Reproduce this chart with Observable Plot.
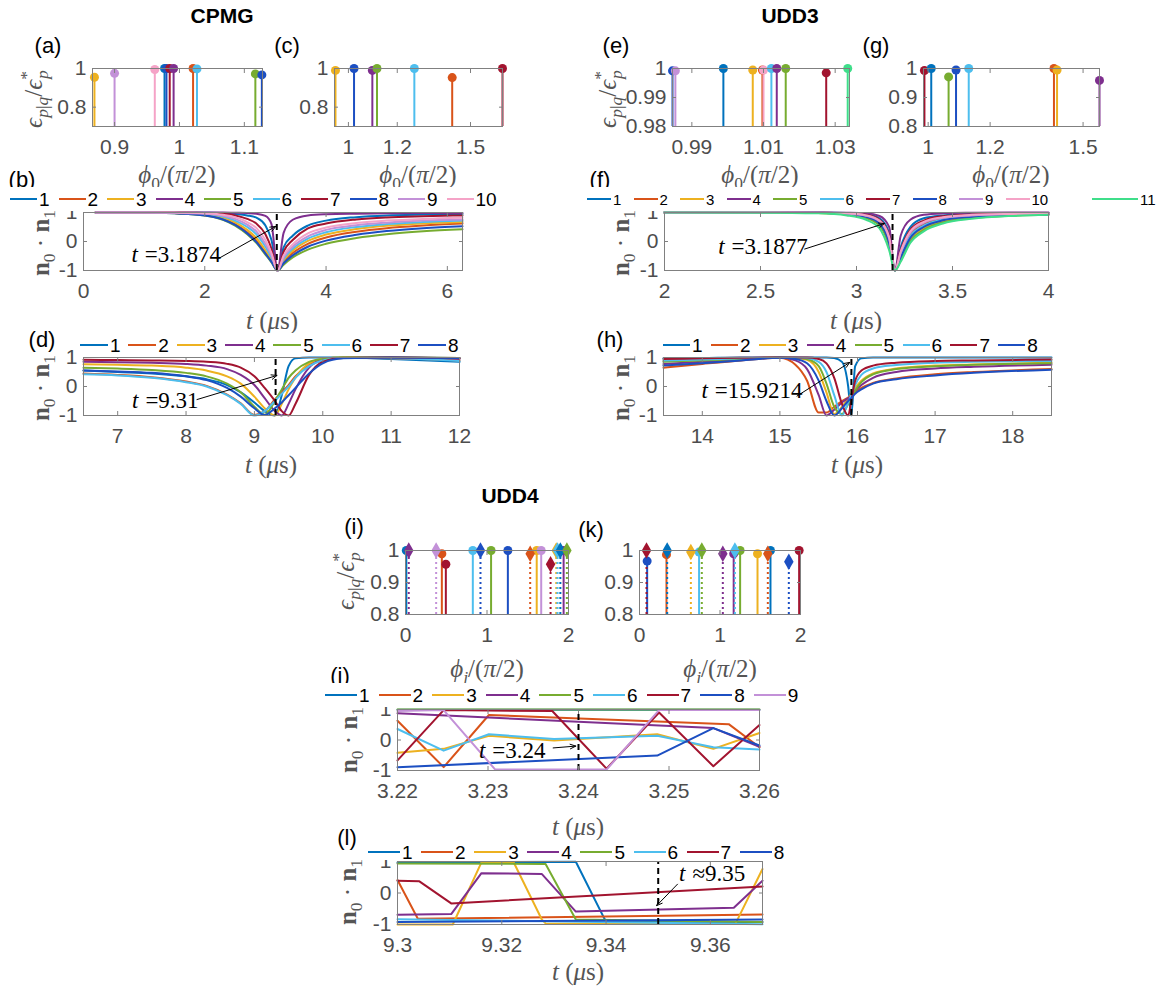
<!DOCTYPE html>
<html>
<head>
<meta charset="utf-8">
<script src="https://cdn.jsdelivr.net/npm/d3@7"></script>
<script src="https://cdn.jsdelivr.net/npm/@observablehq/plot@0.6"></script>
<style>
html, body { margin: 0; padding: 0; background: #fff; }
#fig { position: relative; width: 1163px; height: 990px; overflow: hidden; background: #fff;
       font-family: "Liberation Sans", Arial, Helvetica, sans-serif; }
#fig svg { position: absolute; }
.t { position: absolute; white-space: nowrap; line-height: 1; }
.math { font-family: "Liberation Serif", "Times New Roman", serif; color: #555; font-size: 25px; }
.math sub, .math sup { font-size: 0.7em; line-height: 0; }
.ylab { font-size: 25px; }
.tag { font-size: 22px; color: #000; }
.title { font-size: 21px; font-weight: bold; color: #000; }
.leg { position: absolute; background: #fff; }
.leg .ln { position: absolute; height: 2px; }
.leg .lb { position: absolute; color: #000; line-height: 1; transform: translateY(-50%); }
</style>
</head>
<body>
<div id="fig"></div>
<script>
// ---------- series colours (index = series number) ----------
const palette = [null, "#0072BD", "#D95319", "#EDB120", "#7E2F8E", "#77AC30", "#4DBEEE",
                 "#A2142F", "#1C4FC2", "#C391D8", "#F5A3C7", "#3FDE8A"];

// ---------- CPMG: stem panels (a) and (c) ----------
const phiA = [0.869, 0.900, 0.962, 0.977, 0.980, 0.985, 0.991, 1.021, 1.027, 1.117, 1.127];
const epsA = [0.955, 0.975, 0.995, 1.0, 1.0, 1.0, 1.0, 1.0, 0.998, 0.972, 0.967];
const serA = [3, 9, 10, 1, 8, 7, 4, 2, 6, 5, 8];

const phiC = [0.947, 1.023, 1.098, 1.117, 1.270, 1.425, 1.631];
const epsC = [0.99, 1.0, 0.99, 1.0, 1.0, 0.953, 1.0];
const serC = [3, 8, 4, 5, 6, 2, 7];

// ---------- UDD3: stem panels (e) and (g) ----------
const phiE = [0.9846, 0.9854, 0.9988, 1.0070, 1.0097, 1.0100, 1.0122, 1.0137, 1.0162, 1.0275, 1.0335];
const epsE = [0.9992, 0.9992, 1.0, 0.9995, 0.9995, 0.9995, 1.0, 1.0, 1.0, 0.9985, 1.0];
const serE = [8, 9, 1, 3, 2, 10, 6, 4, 5, 7, 11];

const phiG = [0.988, 1.010, 1.066, 1.090, 1.131, 1.406, 1.416, 1.553];
const epsG = [0.993, 1.0, 0.971, 0.995, 1.0, 1.0, 0.995, 0.959];
const serG = [7, 1, 5, 8, 6, 2, 3, 4];

// ---------- UDD4: stem panels (i) and (k); solid = circle, dotted = diamond ----------
const phiI = [0.01, 0.04, 0.376, 0.446, 0.495, 0.826, 0.92, 1.05, 1.256, 1.53, 1.61, 1.665, 1.78, 1.85, 1.865, 1.90, 1.94, 1.98];
const epsI = [1.0, 1.0, 1.0, 0.99, 0.957, 1.0, 1.0, 1.0, 1.0, 0.99, 1.0, 1.0, 0.957, 1.0, 1.0, 1.0, 1.0, 1.0];
const serI = [1, 4, 9, 2, 7, 6, 8, 5, 8, 2, 3, 9, 7, 3, 6, 1, 4, 5];
const dotI = [0, 1, 1, 0, 0, 0, 1, 0, 0, 1, 0, 0, 1, 1, 1, 1, 0, 1];

const phiK = [0.087, 0.095, 0.335, 0.344, 0.638, 0.74, 0.774, 1.035, 1.17, 1.185, 1.25, 1.466, 1.594, 1.627, 1.855, 1.983];
const epsK = [1.0, 0.967, 0.987, 1.0, 0.995, 0.995, 1.0, 0.99, 0.99, 1.0, 1.0, 0.99, 0.99, 1.0, 0.965, 1.0];
const serK = [7, 8, 2, 1, 3, 6, 5, 4, 4, 6, 5, 3, 2, 1, 8, 7];
const dotK = [1, 0, 0, 1, 1, 0, 1, 1, 0, 1, 0, 0, 1, 0, 1, 0];

// ---------- (b) CPMG, first pulse ----------
const tB = [0.2, 1.0, 1.5, 2.0, 2.3, 2.5, 2.7, 2.85, 3.0, 3.1, 3.2, 3.3, 3.45, 3.7, 4.0, 4.5, 5.0, 5.6, 6.25];
const vB = [
  [1, 1, 1, 0.99, 0.98, 0.95, 0.9, 0.82, 0.55, 0.05, -1, -0.2, 0.2, 0.55, 0.72, 0.84, 0.9, 0.93, 0.95],
  [1, 1, 0.98, 0.91, 0.78, 0.6, 0.32, 0.03, -0.38, -0.67, -1, -0.7, -0.4, -0.08, 0.14, 0.34, 0.46, 0.55, 0.62],
  [1, 1, 0.98, 0.93, 0.82, 0.66, 0.4, 0.12, -0.3, -0.62, -1, -0.65, -0.32, 0.02, 0.24, 0.43, 0.54, 0.62, 0.67],
  [1, 1, 1, 1, 1, 0.99, 0.98, 0.96, 0.88, 0.6, -1, 0.3, 0.75, 0.9, 0.94, 0.96, 0.97, 0.98, 0.98],
  [1, 1, 0.97, 0.9, 0.75, 0.55, 0.25, -0.05, -0.45, -0.72, -1, -0.8, -0.55, -0.28, -0.08, 0.12, 0.25, 0.35, 0.42],
  [1, 1, 0.99, 0.95, 0.86, 0.72, 0.5, 0.25, -0.18, -0.55, -1, -0.6, -0.25, 0.1, 0.32, 0.5, 0.6, 0.67, 0.72],
  [1, 1, 1, 0.98, 0.95, 0.9, 0.78, 0.62, 0.25, -0.25, -1, -0.35, 0.05, 0.45, 0.62, 0.76, 0.83, 0.87, 0.9],
  [1, 1, 0.97, 0.9, 0.76, 0.57, 0.28, -0.02, -0.42, -0.7, -1, -0.75, -0.48, -0.18, 0.03, 0.23, 0.36, 0.46, 0.53],
  [1, 1, 0.99, 0.96, 0.89, 0.78, 0.58, 0.35, -0.08, -0.48, -1, -0.55, -0.18, 0.18, 0.4, 0.56, 0.65, 0.72, 0.76],
  [1, 1, 1, 0.97, 0.92, 0.84, 0.67, 0.47, 0.05, -0.4, -1, -0.48, -0.1, 0.28, 0.48, 0.64, 0.72, 0.78, 0.82]
];

// ---------- (f) UDD3, first pulse ----------
const tF = [2, 2.5, 2.8, 2.95, 3.05, 3.12, 3.17, 3.2, 3.23, 3.28, 3.35, 3.45, 3.6, 3.8, 4.0];
const vF = [
  [1, 1, 1, 0.98, 0.94, 0.8, 0.3, -1, -0.2, 0.5, 0.8, 0.9, 0.95, 0.97, 0.98],
  [1, 1, 0.99, 0.96, 0.88, 0.68, 0.05, -1, -0.45, 0.25, 0.6, 0.8, 0.89, 0.93, 0.95],
  [1, 1, 0.98, 0.94, 0.83, 0.58, -0.1, -1, -0.6, 0.05, 0.45, 0.7, 0.83, 0.9, 0.93],
  [1, 1, 1, 0.99, 0.97, 0.88, 0.5, -1, 0.2, 0.75, 0.92, 0.97, 0.99, 1, 1],
  [1, 1, 0.98, 0.93, 0.81, 0.55, -0.15, -1, -0.65, 0, 0.4, 0.66, 0.81, 0.89, 0.92],
  [1, 1, 0.99, 0.95, 0.86, 0.64, 0, -1, -0.5, 0.18, 0.55, 0.76, 0.87, 0.92, 0.94],
  [1, 1, 0.99, 0.97, 0.92, 0.75, 0.2, -1, -0.3, 0.4, 0.72, 0.87, 0.93, 0.96, 0.97],
  [1, 1, 0.99, 0.95, 0.85, 0.62, -0.05, -1, -0.55, 0.12, 0.5, 0.73, 0.85, 0.91, 0.93],
  [1, 1, 0.99, 0.96, 0.89, 0.7, 0.1, -1, -0.4, 0.3, 0.64, 0.82, 0.9, 0.94, 0.95],
  [1, 1, 0.99, 0.97, 0.9, 0.72, 0.15, -1, -0.35, 0.35, 0.68, 0.84, 0.92, 0.95, 0.96],
  [1, 0.995, 0.97, 0.9, 0.75, 0.45, -0.3, -1, -0.7, -0.05, 0.35, 0.62, 0.78, 0.88, 0.92]
];

// ---------- (d) CPMG, second pulse ----------
const tD = [6.5, 7, 7.5, 8, 8.3, 8.6, 8.8, 9.0, 9.15, 9.3, 9.4, 9.5, 9.6, 9.8, 10.0, 10.3, 11, 12];
const vD = [
  [0.55, 0.5, 0.45, 0.35, 0.25, 0.05, -0.2, -0.55, -0.85, -1, -0.3, 0.7, 0.97, 1, 1, 1, 0.95, 0.85],
  [0.45, 0.4, 0.32, 0.17, 0.02, -0.28, -0.58, -0.98, -0.85, -0.45, -0.2, 0.05, 0.35, 0.75, 0.93, 0.99, 0.97, 0.9],
  [0.77, 0.75, 0.72, 0.65, 0.55, 0.35, 0.1, -0.35, -0.75, -1, -0.6, -0.1, 0.3, 0.8, 0.95, 1, 1, 0.98],
  [0.85, 0.84, 0.82, 0.78, 0.72, 0.6, 0.4, 0.05, -0.4, -0.85, -1, -0.6, -0.1, 0.65, 0.92, 0.99, 1, 0.95],
  [0.65, 0.62, 0.57, 0.47, 0.35, 0.1, -0.2, -0.7, -0.97, -0.5, -0.1, 0.3, 0.55, 0.85, 0.95, 1, 1, 0.98],
  [0.42, 0.38, 0.3, 0.15, 0.0, -0.3, -0.6, -1, -0.85, -0.5, -0.25, 0, 0.3, 0.7, 0.9, 0.98, 0.97, 0.88],
  [0.92, 0.91, 0.9, 0.88, 0.85, 0.78, 0.65, 0.35, -0.05, -0.5, -0.85, -1, -0.6, 0.4, 0.85, 0.98, 1, 0.97],
  [0.55, 0.52, 0.47, 0.35, 0.22, -0.05, -0.35, -0.75, -0.98, -0.75, -0.55, -0.3, -0.05, 0.45, 0.8, 0.97, 1, 0.98]
];

// ---------- (h) UDD3, second pulse ----------
const tH = [13.5, 14, 14.5, 15, 15.2, 15.35, 15.5, 15.6, 15.7, 15.8, 15.88, 15.92, 15.97, 16.05, 16.2, 16.5, 17, 17.5, 18.5];
const vH = [
  [0.97, 0.98, 1, 1, 1, 1, 1, 1, 0.98, 0.85, 0.0, -1, 0.7, 0.97, 1, 1, 1, 1, 1],
  [0.65, 0.78, 0.9, 0.99, 0.75, 0.2, -0.9, -0.9, -0.7, -0.5, -0.38, -0.3, -0.2, -0.05, 0.12, 0.28, 0.42, 0.5, 0.6],
  [0.88, 0.92, 0.96, 1, 0.98, 0.92, 0.5, -0.2, -0.95, -0.7, -0.4, -0.25, -0.05, 0.2, 0.45, 0.62, 0.72, 0.76, 0.82],
  [0.78, 0.85, 0.93, 1, 0.9, 0.6, -0.3, -1, -0.8, -0.55, -0.4, -0.3, -0.15, 0.05, 0.3, 0.5, 0.62, 0.68, 0.75],
  [0.85, 0.9, 0.95, 1, 0.99, 0.95, 0.7, 0.1, -0.7, -0.95, -0.6, -0.4, -0.15, 0.15, 0.42, 0.6, 0.7, 0.75, 0.8],
  [0.9, 0.93, 0.97, 1, 1, 0.98, 0.85, 0.5, -0.3, -1, -0.55, -0.3, 0.05, 0.4, 0.62, 0.74, 0.82, 0.85, 0.88],
  [0.95, 0.97, 0.99, 1, 1, 1, 0.95, 0.8, 0.3, -0.6, -1, -0.5, 0.2, 0.55, 0.72, 0.82, 0.88, 0.9, 0.93],
  [0.72, 0.8, 0.9, 0.99, 0.95, 0.8, 0.2, -0.5, -1, -0.75, -0.5, -0.4, -0.25, -0.1, 0.1, 0.25, 0.38, 0.47, 0.58]
];

// ---------- (j) UDD4 near t = 3.24: [t, n0·n1] vertices per series ----------
const pJ = [
  [[3.22, 0.99], [3.26, 0.99]],
  [[3.22, 0.63], [3.2251, -0.89], [3.2301, 0.82], [3.2566, 0.52], [3.26, -0.24]],
  [[3.22, -0.42], [3.2251, -0.29], [3.2301, 0.14], [3.2373, -0.02], [3.2487, 0.19], [3.2549, -0.29], [3.26, 0.23]],
  [[3.22, 0.88], [3.2549, 0.39], [3.26, -0.22]],
  [[3.22, 1.0], [3.26, 1.0]],
  [[3.22, 0.36], [3.2251, -0.35], [3.2301, 0.19], [3.2373, 0.03], [3.2487, 0.14], [3.2549, -0.24], [3.26, -0.31]],
  [[3.22, -0.67], [3.2251, 0.98], [3.2371, 0.95], [3.2431, -0.94], [3.2489, 0.9], [3.2549, -0.86], [3.26, 0.49]],
  [[3.22, -0.89], [3.2487, -0.51], [3.2549, 0.39], [3.26, -0.18]],
  [[3.22, 0.95], [3.2251, 0.98], [3.2308, -0.97], [3.2431, -0.97], [3.2489, 0.98], [3.26, 0.98]]
];

// ---------- (l) UDD4 near t = 9.35 ----------
const pL = [
  [[9.3, 0.97], [9.3342, 0.99], [9.3397, -0.82], [9.3403, -0.92], [9.37, -0.92]],
  [[9.3, 0.41], [9.3039, -0.82], [9.37, -0.68]],
  [[9.3, -1.0], [9.3106, -1.0], [9.3161, 0.97], [9.3223, 0.97], [9.3277, -0.85], [9.3285, -0.98], [9.3648, -0.98], [9.37, 0.76]],
  [[9.3, -0.69], [9.3103, -0.67], [9.3161, 0.63], [9.3277, 0.6], [9.3342, -0.59], [9.3645, -0.47], [9.37, 0.39]],
  [[9.3, 0.94], [9.3284, 0.92], [9.3342, -0.84], [9.37, -0.92]],
  [[9.3, -0.83], [9.37, -0.99]],
  [[9.3, 0.39], [9.3042, 0.37], [9.3103, -0.33], [9.37, 0.21]],
  [[9.3, -0.92], [9.37, -0.84]]
];

// ---------- markers of the pulse instants and their call-outs ----------
const notes = {
  b: {tm: 3.1874, label: "=3.1874", tx: 0.79, ty: -0.44, ax1: 2.25, ay1: -0.56, ax2: 3.17, ay2: 0.52},
  f: {tm: 3.1877, label: "=3.1877", tx: 2.28, ty: -0.19, ax1: 2.73, ay1: -0.26, ax2: 3.145, ay2: 0.62},
  d: {tm: 9.31, label: "=9.31", tx: 7.21, ty: -0.5, ax1: 8.16, ay1: -0.45, ax2: 9.33, ay2: 0.38},
  h: {tm: 15.9214, label: "=15.9214", tx: 13.99, ty: -0.15, ax1: 15.22, ay1: -0.33, ax2: 15.9, ay2: 0.83},
  j: {tm: 3.24, label: "=3.24", tx: 3.229, ty: -0.35, ax1: 3.2372, ay1: -0.26, ax2: 3.2397, ay2: -0.2},
  l: {tm: 9.35, label: "≈9.35", tx: 9.354, ty: 0.61, ax1: 9.3537, ay1: 0.28, ax2: 9.3497, ay2: -0.4}
};

// ====================================================================
const fig = document.getElementById("fig");
const serif = "Liberation Serif, Times New Roman, serif";
const gray = "#808080";

function gridRows(ts, values) {
  return values.flatMap((vs, i) => vs.map((v, j) => ({t: ts[j], v, s: i + 1})));
}
function pairRows(points) {
  return points.flatMap((ps, i) => ps.map(([t, v]) => ({t, v, s: i + 1})));
}
function stemRows(phi, eps, ser, dotted) {
  return phi.map((p, i) => ({p, e: eps[i], s: ser[i], dotted: dotted ? dotted[i] === 1 : false}));
}

// One axes box placed so that its frame lands on the given rectangle.
function panel({box, xDomain, yDomain, xTicks, yTicks, marks}) {
  const [x0, y0, x1, y1] = box;
  const ml = 80, mr = 30, mt = 12, mb = 44;
  const svg = Plot.plot({
    width: x1 - x0 + ml + mr,
    height: y1 - y0 + mt + mb,
    marginLeft: ml, marginRight: mr, marginTop: mt, marginBottom: mb,
    x: {domain: xDomain, label: null},
    y: {domain: yDomain, label: null},
    color: {type: "identity"},
    style: {fontFamily: "Liberation Sans, Arial, Helvetica, sans-serif", fontSize: "21px",
            color: "#4d4d4d", background: "transparent", overflow: "visible"},
    marks: [
      ...marks,
      Plot.frame({stroke: gray, strokeWidth: 1}),
      Plot.axisX(xTicks, {anchor: "bottom", tickSize: 0, tickPadding: 13, tickFormat: d => String(d), label: null}),
      Plot.axisY(yTicks, {anchor: "left", tickSize: 0, tickPadding: 6, tickFormat: d => String(d), label: null}),
      Plot.axisX(xTicks, {anchor: "bottom", tickSize: -4, tickFormat: () => "", stroke: gray, label: null}),
      Plot.axisX(xTicks, {anchor: "top", tickSize: -4, tickFormat: () => "", stroke: gray, label: null}),
      Plot.axisY(yTicks, {anchor: "left", tickSize: -4, tickFormat: () => "", stroke: gray, label: null}),
      Plot.axisY(yTicks, {anchor: "right", tickSize: -4, tickFormat: () => "", stroke: gray, label: null})
    ]
  });
  svg.style.left = (x0 - ml) + "px";
  svg.style.top = (y0 - mt) + "px";
  fig.appendChild(svg);
}

function stemMarks(rows, ymin) {
  const solid = rows.filter(d => !d.dotted), dotted = rows.filter(d => d.dotted);
  return [
    Plot.ruleX(solid, {x: "p", y1: ymin, y2: "e", stroke: d => palette[d.s], strokeWidth: 2}),
    Plot.ruleX(dotted, {x: "p", y1: ymin, y2: "e", stroke: d => palette[d.s], strokeWidth: 2, strokeDasharray: "2,3"}),
    Plot.dot(solid, {x: "p", y: "e", fill: d => palette[d.s], r: 4.5, symbol: "circle"}),
    Plot.dot(dotted, {x: "p", y: "e", fill: d => palette[d.s], r: 5, symbol: "diamond"})
  ];
}

function lineMarks(rows, curve) {
  return [Plot.line(rows, {x: "t", y: "v", z: "s", stroke: d => palette[d.s], strokeWidth: 2, curve})];
}

function noteMarks(a, fs) {
  return [
    Plot.ruleX([a.tm], {y1: -1, y2: 1, stroke: "#000", strokeWidth: 2, strokeDasharray: "6,4"}),
    Plot.arrow([a], {x1: "ax1", y1: "ay1", x2: "ax2", y2: "ay2", stroke: "#000", strokeWidth: 1, headLength: 9, headAngle: 45}),
    Plot.text([a], {x: "tx", y: "ty", text: () => "t", fontStyle: "italic", textAnchor: "start", lineAnchor: "middle",
                    fontFamily: serif, fontSize: fs, fill: "#000"}),
    Plot.text([a], {x: "tx", y: "ty", text: "label", dx: fs * 0.58, textAnchor: "start", lineAnchor: "middle",
                    fontFamily: serif, fontSize: fs, fill: "#000"})
  ];
}

// ---------- stem panels ----------
panel({box: [92, 68, 262, 126], xDomain: [0.866, 1.128], yDomain: [0.7, 1], xTicks: [0.9, 1, 1.1], yTicks: [0.8, 1],
       marks: stemMarks(stemRows(phiA, epsA, serA), 0.7)});
panel({box: [334, 68, 502, 126], xDomain: [0.943, 1.631], yDomain: [0.7, 1], xTicks: [1, 1.2, 1.5], yTicks: [0.8, 1],
       marks: stemMarks(stemRows(phiC, epsC, serC), 0.7)});
panel({box: [672, 68, 849, 126], xDomain: [0.9846, 1.034], yDomain: [0.98, 1], xTicks: [0.99, 1.01, 1.03], yTicks: [0.98, 0.99, 1],
       marks: stemMarks(stemRows(phiE, epsE, serE), 0.98)});
panel({box: [923, 68, 1099, 126], xDomain: [0.985, 1.553], yDomain: [0.8, 1], xTicks: [1, 1.2, 1.5], yTicks: [0.8, 0.9, 1],
       marks: stemMarks(stemRows(phiG, epsG, serG), 0.8)});
panel({box: [405, 550, 568, 614], xDomain: [0, 2], yDomain: [0.8, 1], xTicks: [0, 1, 2], yTicks: [0.8, 0.9, 1],
       marks: stemMarks(stemRows(phiI, epsI, serI, dotI), 0.8)});
panel({box: [639, 550, 800, 614], xDomain: [0, 2], yDomain: [0.8, 1], xTicks: [0, 1, 2], yTicks: [0.8, 0.9, 1],
       marks: stemMarks(stemRows(phiK, epsK, serK, dotK), 0.8)});

// ---------- time-trace panels ----------
const yT = [-1, 0, 1];
panel({box: [83, 212, 462, 270], xDomain: [0, 6.25], yDomain: [-1, 1], xTicks: [0, 2, 4, 6], yTicks: yT,
       marks: [...lineMarks(gridRows(tB, vB), "monotone-x"), ...noteMarks(notes.b, 23)]});
panel({box: [664, 212, 1048, 270], xDomain: [2, 4], yDomain: [-1, 1], xTicks: [2, 2.5, 3, 3.5, 4], yTicks: yT,
       marks: [...lineMarks(gridRows(tF, vF), "monotone-x"), ...noteMarks(notes.f, 23)]});
panel({box: [83, 357, 459, 415], xDomain: [6.5, 12], yDomain: [-1, 1], xTicks: [7, 8, 9, 10, 11, 12], yTicks: yT,
       marks: [...lineMarks(gridRows(tD, vD), "monotone-x"), ...noteMarks(notes.d, 23)]});
panel({box: [663, 357, 1051, 415], xDomain: [13.5, 18.5], yDomain: [-1, 1], xTicks: [14, 15, 16, 17, 18], yTicks: yT,
       marks: [...lineMarks(gridRows(tH, vH), "monotone-x"), ...noteMarks(notes.h, 23)]});
panel({box: [397, 709, 759, 770], xDomain: [3.22, 3.26], yDomain: [-1, 1], xTicks: [3.22, 3.23, 3.24, 3.25, 3.26], yTicks: yT,
       marks: [...lineMarks(pairRows(pJ), "linear"), ...noteMarks(notes.j, 23)]});
panel({box: [397, 861, 762, 924], xDomain: [9.3, 9.37], yDomain: [-1, 1], xTicks: [9.3, 9.32, 9.34, 9.36], yTicks: yT,
       marks: [...lineMarks(pairRows(pL), "linear"), ...noteMarks(notes.l, 23)]});

// ---------- text: titles, tags, axis labels ----------
function put(html, cls, cx, cy, rotate) {
  const d = document.createElement("div");
  d.className = "t " + cls;
  d.innerHTML = html;
  d.style.left = cx + "px";
  d.style.top = cy + "px";
  d.style.transform = "translate(-50%,-50%)" + (rotate ? " rotate(-90deg)" : "");
  fig.appendChild(d);
}
const phi0 = "<i>ϕ</i><sub>0</sub>/(<i>π</i>/2)";
const phij = "<i>ϕ<sub>j</sub></i>/(<i>π</i>/2)";
const tus = "<i>t</i> (<i>μ</i>s)";
const epsLab = "<i>ϵ</i><sub><i>p</i>|<i>q</i></sub>/<i>ϵ</i><sup>*</sup><sub style='margin-left:-0.45em'><i>p</i></sub>";
const nLab = "<b>n</b><sub>0</sub> · <b>n</b><sub>1</sub>";

[[phi0, 177, 174], [phi0, 418, 174], [phi0, 760, 174], [phi0, 1011, 174],
 [tus, 272, 320], [tus, 856, 320], [tus, 271, 464], [tus, 857, 464],
 [phij, 487, 668], [phij, 720, 668], [tus, 578, 826], [tus, 578, 971]
].forEach(([h, x, y]) => put(h, "math", x, y, false));

[[epsLab, 33, 99], [epsLab, 607, 99], [epsLab, 345, 581]
].forEach(([h, x, y]) => put(h, "math ylab", x, y, true));
[[nLab, 40, 243], [nLab, 620, 243], [nLab, 40, 388], [nLab, 620, 388], [nLab, 348, 740], [nLab, 347, 892]
].forEach(([h, x, y]) => put(h, "math", x, y, true));

[["(a)", 48, 46], ["(c)", 287, 46], ["(e)", 616, 46], ["(g)", 876, 46],
 ["(b)", 22, 180], ["(f)", 600, 180], ["(d)", 42, 340], ["(h)", 610, 340],
 ["(i)", 354, 527], ["(k)", 591, 530], ["(j)", 340, 676], ["(l)", 347, 838]
].forEach(([h, x, y]) => put(h, "tag", x, y, false));

[["CPMG", 222, 15], ["UDD3", 790, 15], ["UDD4", 510, 495]].forEach(([h, x, y]) => put(h, "title", x, y, false));

// ---------- legends (series number and line colour) ----------
function legend(n, {x0, y, step, len, fs, top, bottom, right, last}) {
  const box = document.createElement("div");
  box.className = "leg";
  box.style.left = (x0 - 4) + "px";
  box.style.top = top + "px";
  box.style.width = (right - x0 + 4) + "px";
  box.style.height = (bottom - top) + "px";
  for (let i = 1; i <= n; i++) {
    let lx = x0 + (i - 1) * step - (x0 - 4), l = len;
    if (last && i === n) { lx = last.x - (x0 - 4); l = last.len; }
    const ln = document.createElement("div");
    ln.className = "ln";
    ln.style.left = lx + "px";
    ln.style.width = l + "px";
    ln.style.top = (y - top - 1) + "px";
    ln.style.background = palette[i];
    const lb = document.createElement("div");
    lb.className = "lb";
    lb.textContent = String(i);
    lb.style.left = (lx + l + 2) + "px";
    lb.style.top = (y - top) + "px";
    lb.style.fontSize = fs + "px";
    box.appendChild(ln);
    box.appendChild(lb);
  }
  fig.appendChild(box);
}
legend(10, {x0: 10, y: 199, step: 48.5, len: 27, fs: 19, top: 187, bottom: 211, right: 500});
legend(11, {x0: 587, y: 199, step: 46.5, len: 24, fs: 15, top: 187, bottom: 211, right: 1163, last: {x: 1092, len: 46}});
legend(8, {x0: 80, y: 345, step: 48.3, len: 28, fs: 19, top: 333, bottom: 356, right: 465});
legend(8, {x0: 663, y: 345, step: 47.9, len: 27, fs: 19, top: 333, bottom: 356, right: 1045});
legend(9, {x0: 325, y: 695, step: 53.6, len: 32, fs: 19, top: 683, bottom: 707, right: 805});
legend(8, {x0: 368, y: 852, step: 53.1, len: 32, fs: 19, top: 840, bottom: 860, right: 790});
</script>
</body>
</html>
